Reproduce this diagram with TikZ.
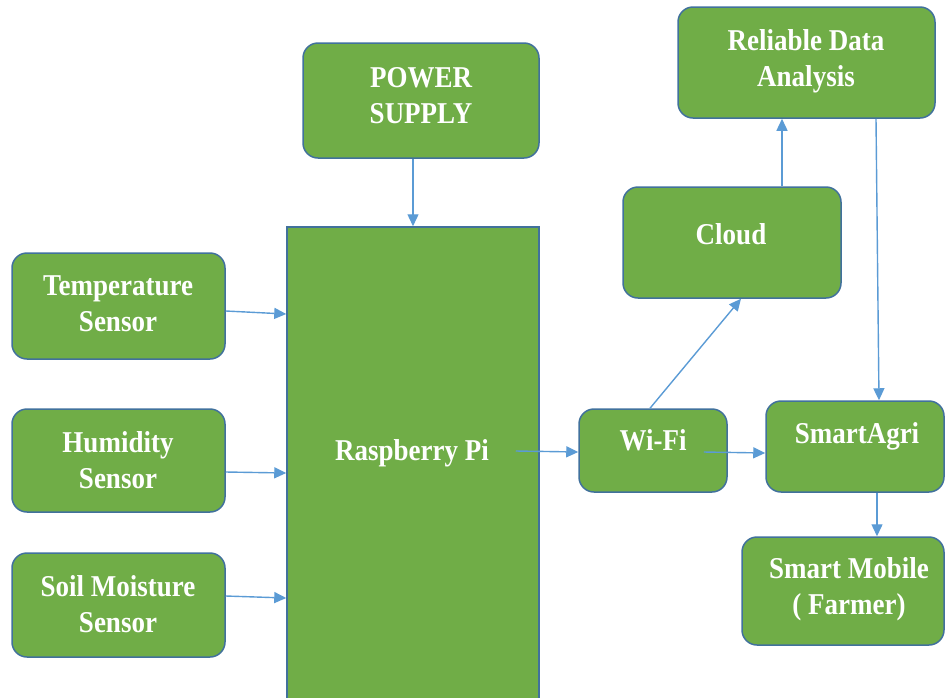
\documentclass[tikz,border=0pt]{standalone}
\usepackage{fontspec}
\setmainfont{Liberation Serif}
\usetikzlibrary{arrows.meta,calc}
\definecolor{grn}{HTML}{70AD47}
\definecolor{bord}{HTML}{41719C}
\definecolor{arrc}{HTML}{5B9BD5}
\tikzset{
  gbox/.style={draw=bord, fill=grn, line width=1.5pt, rounded corners=15pt, inner sep=0pt},
  pibox/.style={draw=bord, fill=grn, line width=1.5pt, inner sep=0pt},
  lbl/.style={text=white, font=\bfseries\fontsize{27}{32}\selectfont, align=center, inner sep=0pt, yscale=1.12, transform shape},
  arr/.style={draw=arrc, line width=1.4pt, -{Triangle[length=12pt,width=11pt]}}
}
\begin{document}
\begin{tikzpicture}[x=1pt,y=-1pt]
\useasboundingbox (0,0) rectangle (945,697);
\begin{scope}
\clip (0,0) rectangle (945,697);
% boxes
\node[gbox, minimum width=236pt, minimum height=115pt] (ps) at (421,100.5) {};
\node[gbox, minimum width=257pt, minimum height=111pt] (rda) at (806.5,62.5) {};
\node[gbox, minimum width=218pt, minimum height=111pt] (cloud) at (732,242.5) {};
\node[gbox, minimum width=213pt, minimum height=106pt] (temp) at (118.5,306) {};
\node[gbox, minimum width=213pt, minimum height=103pt] (hum) at (118.5,460.5) {};
\node[gbox, minimum width=213pt, minimum height=104pt] (soil) at (118.5,605) {};
\node[pibox, minimum width=252pt, minimum height=493pt] (pi) at (413,473.5) {};
\node[gbox, minimum width=148pt, minimum height=83pt] (wifi) at (653,450.5) {};
\node[gbox, minimum width=178pt, minimum height=91pt] (sa) at (855,446.5) {};
\node[gbox, minimum width=202pt, minimum height=108pt] (mob) at (843,591) {};
% labels
\node[lbl] (psT) at (421,96) {POWER\\SUPPLY};
\node[lbl] (rdaT) at (806,61) {Reliable Data\\Analysis};
\node[lbl] (cloudT) at (731,234) {Cloud};
\node[lbl] (tempT) at (118,304) {Temperature\\Sensor};
\node[lbl] (humT) at (118,460) {Humidity\\Sensor};
\node[lbl] (soilT) at (118,604) {Soil Moisture\\Sensor};
\node[lbl] (piT) at (412,453) {Raspberry Pi};
\node[lbl] (wifiT) at (653,440) {Wi-Fi};
\node[lbl] (saT) at (857,436) {SmartAgri};
\node[lbl] (mobT) at (849,589) {Smart Mobile\\( Farmer)};
% connectors
\draw[arr] (ps.south -| pi.north) -- (pi.north);
\draw[arr] ($(cloud.north)+(50,0)$) -- ($(rda.south -| cloud.north)+(50,0)$);
\draw[arr] ($(rda.south)+(69.5,0)$) -- ($(sa.north)+(24,0)$);
\draw[arr] ($(wifi.north)+(-3,0)$) -- ($(cloud.south)+(9,0)$);
\draw[arr] ($(temp.east)+(0,5)$) -- ($(pi.west |- temp.east)+(0,8)$);
\draw[arr] ($(hum.east)+(0,11.5)$) -- ($(pi.west |- hum.east)+(0,12.5)$);
\draw[arr] ($(soil.east)+(0,-9)$) -- ($(pi.west |- soil.east)+(0,-7)$);
\draw[arr] ($(pi.east)+(-24,-22.5)$) -- ($(wifi.west)+(0,1.5)$);
\draw[arr] ($(wifi.east)+(-24,1.5)$) -- ($(sa.west |- wifi.east)+(0,2.5)$);
\draw[arr] ($(sa.south)+(22,0)$) -- ($(mob.north)+(34,0)$);
\end{scope}
\end{tikzpicture}
\end{document}
